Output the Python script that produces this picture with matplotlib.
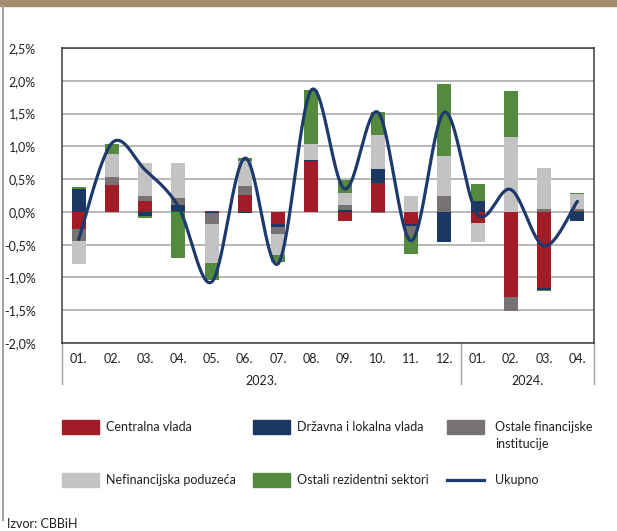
import numpy as np
import matplotlib
matplotlib.use("Agg")
import matplotlib.pyplot as plt
from matplotlib.patches import Rectangle
from matplotlib.lines import Line2D

plt.rcParams['font.family'] = ['Lato', 'DejaVu Sans']

# Podaci (doprinos rastu, %)
mjeseci = ['01.', '02.', '03.', '04.', '05.', '06.', '07.', '08.', '09.', '10.', '11.', '12.',
           '01.', '02.', '03.', '04.']
godine = ['2023.', '2024.']
mjeseci_po_godini = [12, 4]

centralna_vlada = [-0.26, 0.41, 0.16, 0.01, 0.01, 0.26, -0.19, 0.77, -0.14, 0.44, -0.19, 0.00,
                   -0.17, -1.30, -1.16, 0.01]
drzavna_lokalna = [0.35, 0.00, -0.07, 0.09, -0.01, -0.02, -0.04, 0.02, 0.03, 0.21, -0.02, -0.46,
                   0.16, 0.00, -0.025, -0.14]
ostale_fin = [-0.19, 0.12, 0.08, 0.11, -0.17, 0.14, -0.10, 0.00, 0.07, -0.02, -0.15, 0.24,
              0.00, -0.21, 0.05, 0.04]
nefinancijska = [-0.34, 0.35, 0.51, 0.53, -0.60, 0.38, -0.32, 0.24, 0.19, 0.53, 0.24, 0.62,
                 -0.29, 1.15, 0.62, 0.22]
ostali_rez = [0.03, 0.15, -0.03, -0.71, -0.26, 0.04, -0.12, 0.83, 0.19, 0.34, -0.29, 1.09,
              0.27, 0.70, -0.02, 0.02]
ukupno = [-0.42, 1.05, 0.64, 0.08, -1.07, 0.82, -0.79, 1.86, 0.35, 1.52, -0.44, 1.52,
          -0.04, 0.34, -0.52, 0.16]

serije = [
    ('Centralna vlada', centralna_vlada, '#A11C26'),
    ('Državna i lokalna vlada', drzavna_lokalna, '#1B3864'),
    ('Ostale financijske\ninstitucije', ostale_fin, '#787372'),
    ('Nefinancijska poduzeća', nefinancijska, '#C3C3C3'),
    ('Ostali rezidentni sektori', ostali_rez, '#548A3D'),
]
boja_linije = '#1E3A6C'

W, H = 617, 531
fig = plt.figure(figsize=(W / 100, H / 100), dpi=100)

def fx(px):
    return px / W

def fy(py):
    return 1 - py / H

ax = fig.add_axes([fx(62), fy(343), fx(594) - fx(62), fy(48) - fy(343)])

x = np.arange(len(mjeseci))
poz = np.zeros(len(x))
neg = np.zeros(len(x))
for naziv, vrijednosti, boja in serije:
    v = np.array(vrijednosti)
    dno = np.where(v >= 0, poz, neg)
    ax.bar(x, v, bottom=dno, width=0.42, color=boja, zorder=3)
    poz = poz + np.where(v >= 0, v, 0)
    neg = neg + np.where(v < 0, v, 0)

# zaglađena linija (Bezier kroz tačke, kao u Excelu)
y = np.array(ukupno)
xp = np.concatenate([[x[0]], x, [x[-1]]])
yp = np.concatenate([[y[0]], y, [y[-1]]])
xs, ys = [], []
t = np.linspace(0, 1, 30)
for i in range(1, len(xp) - 2):
    p0 = np.array([xp[i], yp[i]])
    p3 = np.array([xp[i + 1], yp[i + 1]])
    p1 = p0 + (p3 - np.array([xp[i - 1], yp[i - 1]])) / 6
    p2 = p3 - (np.array([xp[i + 2], yp[i + 2]]) - p0) / 6
    b = ((1 - t) ** 3)[:, None] * p0 + (3 * (1 - t) ** 2 * t)[:, None] * p1 \
        + (3 * (1 - t) * t ** 2)[:, None] * p2 + (t ** 3)[:, None] * p3
    xs.extend(b[:, 0])
    ys.extend(b[:, 1])
ax.plot(xs, ys, color=boja_linije, linewidth=2.3, zorder=4, solid_capstyle='round')

ax.set_xlim(-0.5, len(x) - 0.5)
ax.set_ylim(-2.0, 2.5)
yt = np.arange(-2.0, 2.51, 0.5)
ax.set_yticks(yt)
ax.set_yticklabels([f'{v:.1f}%'.replace('.', ',') for v in yt])
ax.set_xticks(x)
ax.set_xticklabels(mjeseci)
ax.tick_params(axis='both', length=0, labelsize=9, colors='#231F20')
ax.tick_params(axis='y', pad=19)
ax.tick_params(axis='x', pad=7)
ax.grid(axis='y', color='#ABABAB', linewidth=1.2, zorder=0)
for s in ax.spines.values():
    s.set_color('#3A3A3A')
    s.set_linewidth(1.1)

# godine i separatori ispod ose
granice = np.concatenate([[0], np.cumsum(mjeseci_po_godini)]) - 0.5
for g in granice:
    ax.plot([g, g], [-2.0, -2.0 - 41 / 65.5], color='#A0A0A0', linewidth=1.0,
            clip_on=False, transform=ax.transData)
for i, god in enumerate(godine):
    sred = (granice[i] + granice[i + 1]) / 2
    ax.text(sred, -2.0 - 38 / 65.5, god, ha='center', va='center', fontsize=9,
            color='#231F20')
ax.set_ylim(-2.0, 2.5)

# okvir stranice
fig.patches.append(Rectangle((0, fy(6)), 1, fy(0) - fy(6), transform=fig.transFigure,
                             color='#A68A6D', zorder=0))
fig.add_artist(Line2D([fx(2.5), fx(2.5)], [fy(6), fy(520)], color='#A3A3A3', linewidth=1.5))

# legenda
leg_x = [62, 253, 447]
leg_y = [427, 480]
for i, (naziv, vrijednosti, boja) in enumerate(serije):
    r, c = divmod(i, 3)
    fig.patches.append(Rectangle((fx(leg_x[c]), fy(leg_y[r] + 7)), fx(37), 14 / H,
                                 transform=fig.transFigure, color=boja))
    if '\n' in naziv:
        fig.text(fx(leg_x[c] + 48), fy(leg_y[r] - 6), naziv, ha='left', va='top',
                 fontsize=9, color='#231F20', linespacing=1.45)
    else:
        fig.text(fx(leg_x[c] + 44), fy(leg_y[r]), naziv, ha='left', va='center',
                 fontsize=9, color='#231F20')
fig.add_artist(Line2D([fx(447), fx(484)], [fy(480), fy(480)], color=boja_linije, linewidth=2.3))
fig.text(fx(495), fy(480), 'Ukupno', ha='left', va='center', fontsize=9, color='#231F20')

fig.text(fx(7), fy(524), 'Izvor: CBBiH', ha='left', va='center', fontsize=9, color='#231F20')

fig.savefig('out.png', dpi=100)
